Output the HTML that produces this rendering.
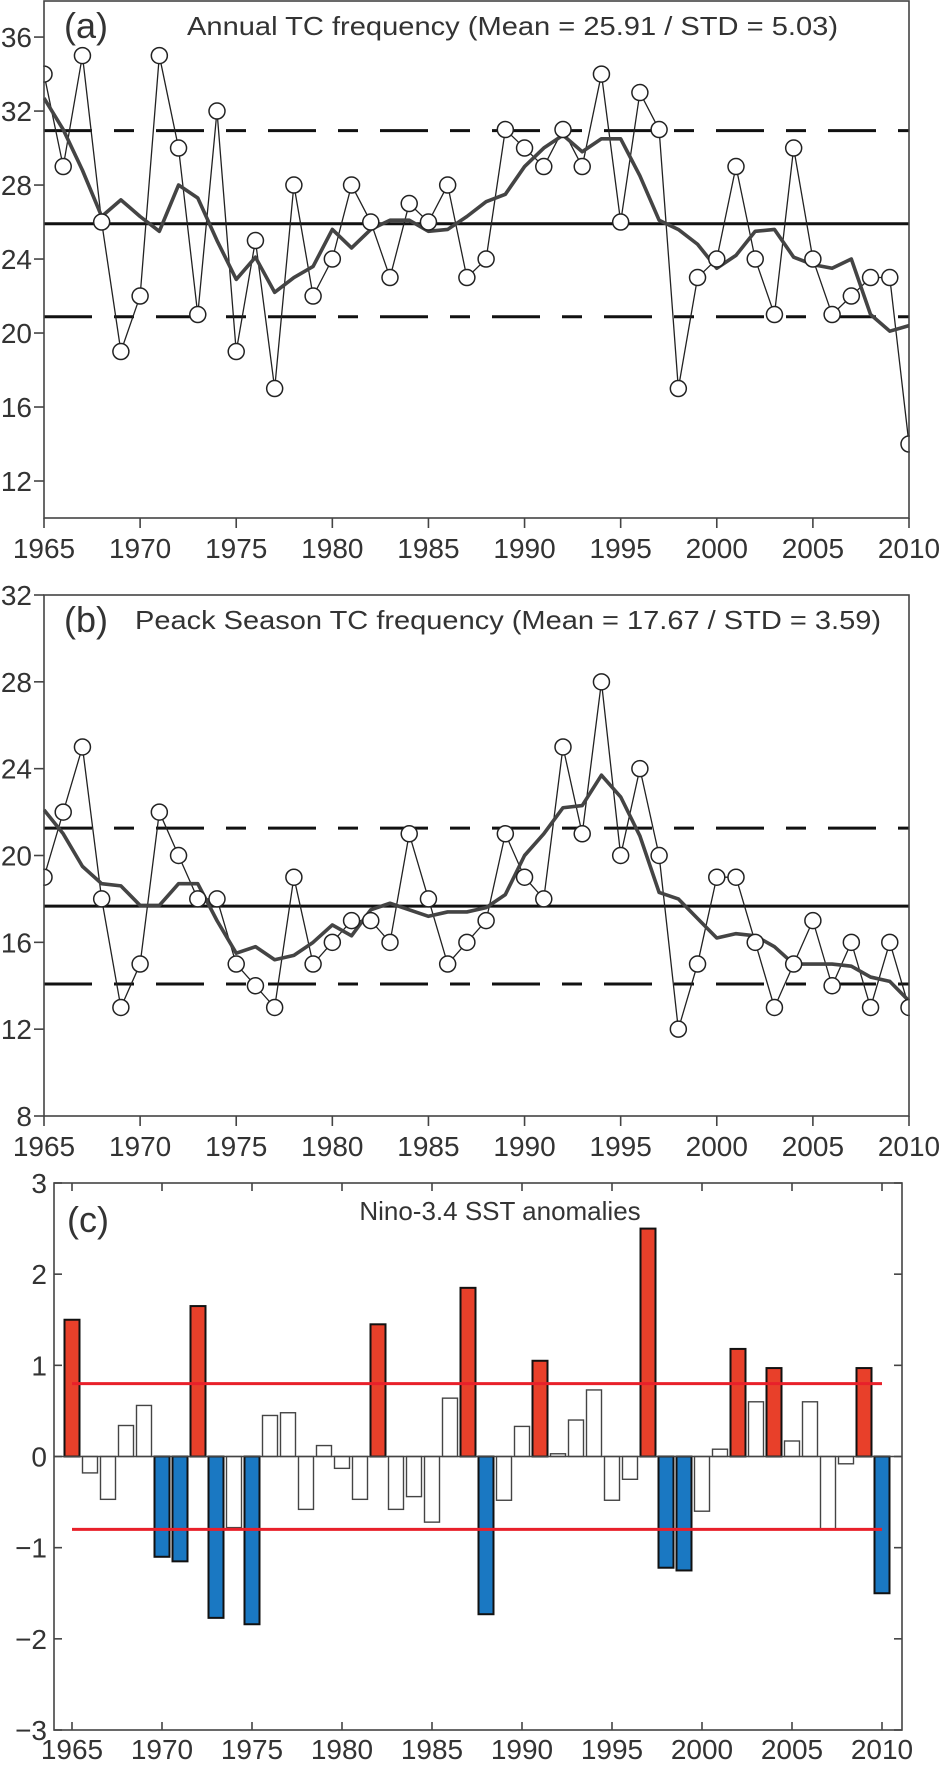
<!DOCTYPE html>
<html><head><meta charset="utf-8"><style>
html,body{margin:0;padding:0;background:#fff}
svg{display:block}
text{font-family:"Liberation Sans",sans-serif;fill:#333}
</style></head><body>
<svg id="c" width="943" height="1765" viewBox="0 0 943 1765" xmlns="http://www.w3.org/2000/svg"></svg>
<script>
const years=[];for(let y=1965;y<=2010;y++)years.push(y);
const annualTC=[34,29,35,26,19,22,35,30,21,32,19,25,17,28,22,24,28,26,23,27,26,28,23,24,31,30,29,31,29,34,26,33,31,17,23,24,29,24,21,30,24,21,22,23,23,14];
const annualSmooth=[32.7,31,28.8,26.3,27.2,26.3,25.5,28,27.3,25,22.9,24.1,22.2,23,23.6,25.6,24.6,25.6,26.1,26.1,25.5,25.6,26.3,27.1,27.5,29,30,30.7,29.8,30.5,30.5,28.5,26.1,25.6,24.8,23.5,24.2,25.5,25.6,24.1,23.7,23.5,24,21,20.1,20.4];
const annualRefs=[25.91,30.94,20.88];
const peakTC=[19,22,25,18,13,15,22,20,18,18,15,14,13,19,15,16,17,17,16,21,18,15,16,17,21,19,18,25,21,28,20,24,20,12,15,19,19,16,13,15,17,14,16,13,16,13];
const peakSmooth=[22.1,21,19.5,18.7,18.6,17.7,17.7,18.7,18.7,17,15.5,15.8,15.2,15.4,16,16.8,16.3,17.5,17.8,17.5,17.2,17.4,17.4,17.6,18.2,20,21,22.2,22.3,23.7,22.7,20.9,18.3,18,17.1,16.2,16.4,16.3,15.8,15,15,15,14.9,14.4,14.2,13.3];
const peakRefs=[17.67,21.26,14.08];
const nino=[1.5,-0.18,-0.47,0.34,0.56,-1.1,-1.15,1.65,-1.77,-0.78,-1.84,0.45,0.48,-0.58,0.12,-0.13,-0.47,1.45,-0.58,-0.44,-0.72,0.64,1.85,-1.73,-0.48,0.33,1.05,0.03,0.4,0.73,-0.48,-0.25,2.5,-1.22,-1.25,-0.6,0.08,1.18,0.6,0.97,0.17,0.6,-0.8,-0.08,0.97,-1.5];
const ninoThresh=0.8;
const xTicks=[1965,1970,1975,1980,1985,1990,1995,2000,2005,2010];
const aTicks=[12,16,20,24,28,32,36];
const bTicks=[8,12,16,20,24,28,32];
const cTicks=[-3,-2,-1,0,1,2,3];

const svg=document.getElementById('c');
const NS='http://www.w3.org/2000/svg';
function el(tag,attrs,parent){const e=document.createElementNS(NS,tag);for(const k in attrs)e.setAttribute(k,attrs[k]);(parent||svg).appendChild(e);return e;}
function lin(d0,d1,r0,r1){return v=>r0+(v-d0)*(r1-r0)/(d1-d0);}

function linePanel(name,label,title,titleX,titleEnd,top,bottom,ymin,ymax,ticks,data,smooth,refs){
  const g=el('g',{});
  
  
  const x=lin(1965,2010,44,909), y=lin(ymin,ymax,bottom,top);
  refs.forEach((r,i)=>{
    const l=el('line',{x1:44,x2:909,y1:y(r),y2:y(r),stroke:'#111','stroke-width':3},g);
    if(i>0)l.setAttribute('stroke-dasharray','48 22 20 22');
    
    
  });
  const tl=el('polyline',{points:data.map((v,i)=>x(years[i])+','+y(v)).join(' '),fill:'none',stroke:'#222','stroke-width':1.3},g);
  
  
  const sm=el('polyline',{points:smooth.map((v,i)=>x(years[i])+','+y(v)).join(' '),fill:'none',stroke:'#444','stroke-width':3.6,'stroke-linejoin':'round'},g);
  
  
  data.forEach((v,i)=>{
    const c=el('circle',{cx:x(years[i]),cy:y(v),r:8,fill:'#fff',stroke:'#222','stroke-width':1.5},g);
    
    
  });
  el('rect',{x:909.8,y:top-10,width:40,height:bottom-top+20,fill:'#fff'},g);
  el('rect',{x:0,y:top-10,width:43.2,height:bottom-top+20,fill:'#fff'},g);
  const fr=el('rect',{x:44,y:top,width:865,height:bottom-top,fill:'none',stroke:'#444','stroke-width':1.6},g);
  
  
  ticks.forEach(t=>{
    el('line',{x1:34,x2:44,y1:y(t),y2:y(t),stroke:'#444','stroke-width':1.6},g);
    const tx=el('text',{x:32,y:y(t)+10,'font-size':28,'text-anchor':'end'},g);tx.textContent=t;
    
    
  });
  xTicks.forEach(t=>{
    el('line',{x1:x(t),x2:x(t),y1:bottom,y2:bottom+10,stroke:'#444','stroke-width':1.6},g);
    const tx=el('text',{x:x(t),y:bottom+40,'font-size':28,'text-anchor':'middle'},g);tx.textContent=t;
    
    
  });
  const lb=el('text',{x:64,y:top+37,'font-size':36},g);lb.textContent=label;
  
  
  const tt=el('text',{x:titleX,y:top+34,'font-size':26,textLength:titleEnd-titleX,lengthAdjust:'spacingAndGlyphs'},g);tt.textContent=title;
  
  
}
linePanel('panel-a-annual','(a)','Annual TC frequency (Mean = 25.91 / STD = 5.03)',187,838,1,518,10,37.95,aTicks,annualTC,annualSmooth,annualRefs);
linePanel('panel-b-peak','(b)','Peack Season TC frequency (Mean = 17.67 / STD = 3.59)',135,881,595,1116,8,32,bTicks,peakTC,peakSmooth,peakRefs);

(function(){
  const g=el('g',{});
  
  
  const x=lin(1965,2010,72,882), y=lin(-3,3,1730,1183);
  nino.forEach((v,i)=>{
    const fill=v>ninoThresh?'#e8402a':(v<-ninoThresh?'#1a78c2':'#fff');
    const strong=fill!='#fff';
    const b=el('rect',{x:x(years[i])-7.5,y:Math.min(y(v),y(0)),width:15,height:Math.abs(y(v)-y(0)),fill:fill,stroke:strong?'#111':'#444','stroke-width':strong?2:1.4},g);
    
    
  });
  el('line',{x1:54,x2:902,y1:y(0),y2:y(0),stroke:'#444','stroke-width':1.4},g);
  [ninoThresh,-ninoThresh].forEach(t=>{
    const l=el('line',{x1:x(1965),x2:x(2010),y1:y(t),y2:y(t),stroke:'#e8202a','stroke-width':3},g);
    
    
  });
  const fr=el('rect',{x:54,y:1183,width:848,height:547,fill:'none',stroke:'#444','stroke-width':1.6},g);
  
  
  cTicks.forEach(t=>{
    el('line',{x1:54,x2:62,y1:y(t),y2:y(t),stroke:'#444','stroke-width':1.6},g);
    el('line',{x1:894,x2:902,y1:y(t),y2:y(t),stroke:'#444','stroke-width':1.6},g);
    const tx=el('text',{x:47,y:y(t)+10,'font-size':28,'text-anchor':'end'},g);tx.textContent=t<0?'\u2212'+(-t):t;
    
    
  });
  xTicks.forEach(t=>{
    el('line',{x1:x(t),x2:x(t),y1:1183,y2:1191,stroke:'#444','stroke-width':1.6},g);
    el('line',{x1:x(t),x2:x(t),y1:1722,y2:1730,stroke:'#444','stroke-width':1.6},g);
    const tx=el('text',{x:x(t),y:1759,'font-size':28,'text-anchor':'middle'},g);tx.textContent=t;
    
    
  });
  const lb=el('text',{x:67,y:1232,'font-size':36},g);lb.textContent='(c)';
  
  
  const tt=el('text',{x:500,y:1220,'font-size':26,'text-anchor':'middle'},g);tt.textContent='Nino-3.4 SST anomalies';
  
  
})();
</script>
</body></html>
